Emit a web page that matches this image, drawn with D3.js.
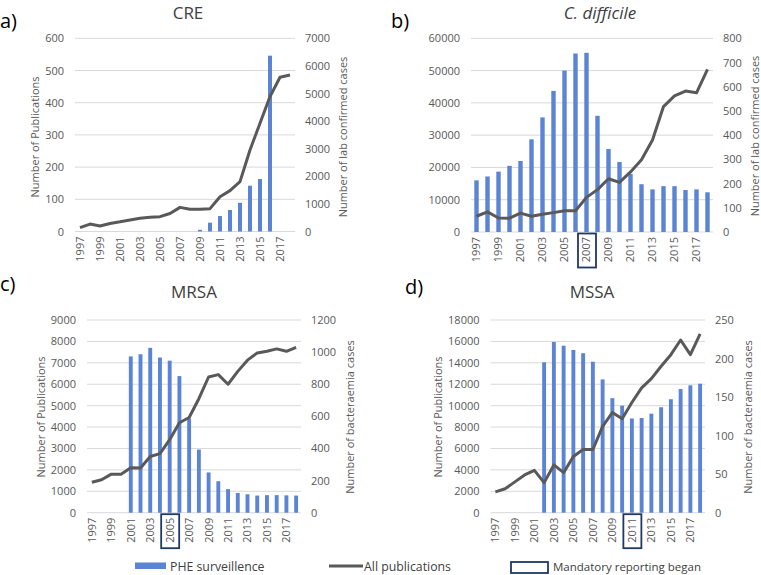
<!DOCTYPE html>
<html>
<head>
<meta charset="utf-8">
<script src="https://cdn.jsdelivr.net/npm/d3@7"></script>
<style>
body{margin:0;background:#fff;}
svg{font-family:"Open Sans",sans-serif;}
</style>
</head>
<body>
<svg id="fig" width="761" height="575"></svg>
<script>
/***************************  Data ***************************/
var years = [1997,1998,1999,2000,2001,2002,2003,2004,2005,2006,2007,2008,2009,2010,2011,2012,2013,2014,2015,2016,2017,2018];
var tick_years = [1997,1999,2001,2003,2005,2007,2009,2011,2013,2015,2017];

// a) CRE : surveillance on the right axis, publications on the left
var cre_surveillance = [null,null,null,null,null,null,null,null,null,null,null,null,60,320,560,780,1040,1660,1900,6370,null,null];
var cre_publications = [12,23,17,25,30,36,41,44,46,56,75,69,69,71,108,127,155,253,336,419,479,486];

// b) C. difficile
var cdiff_surveillance = [16000,17200,18700,20500,22000,28700,35500,43700,50000,55300,55500,36000,25700,21700,18000,14800,13200,14200,14200,13000,13200,12300];
var cdiff_publications = [65,83,58,57,78,65,73,80,88,88,143,175,220,205,248,298,380,518,562,582,575,672];

// c) MRSA
var mrsa_surveillance = [null,null,null,null,7300,7400,7700,7250,7100,6380,4400,2950,1880,1470,1100,920,860,800,820,820,810,800];
var mrsa_publications = [190,205,240,240,280,278,350,368,455,560,593,710,845,860,800,880,950,995,1005,1020,1005,1030];

// d) MSSA
var mssa_surveillance = [null,null,null,null,null,14050,15950,15600,15200,14900,14100,12450,10700,10000,8800,8850,9250,9850,10600,11550,11900,12050];
var mssa_publications = [27,31,40,49,55,39,62,52,73,82,82,112,130,122,143,162,174,190,205,224,205,232];

var legend_labels = ["PHE surveillence","All publications","Mandatory reporting began"];

/***************************  Panels ***************************/
var panels = [
    {tag:"a)", title:"CRE", italic:false, tagX:0, tagY:28, titleX:188, titleY:19,
     x0:75, x1:295, yb:231.5, yt:38.3,
     leftMax:600, leftStep:100, rightMax:7000, rightStep:1000,
     bars:cre_surveillance, line:cre_publications, barsRight:true,
     leftTitle:"Number of Publications", leftTitleX:39, rightTitle:"Number of lab confirmed cases", rightTitleX:347, titleMidY:137,
     mandatory:null},
    {tag:"b)", title:"C. difficile", italic:true, tagX:391, tagY:28, titleX:600, titleY:19,
     x0:471, x1:713, yb:232, yt:38.3,
     leftMax:60000, leftStep:10000, rightMax:800, rightStep:100,
     bars:cdiff_surveillance, line:cdiff_publications, barsRight:false,
     leftTitle:null, rightTitle:"Number of lab confirmed cases", rightTitleX:759, titleMidY:136,
     mandatory:2007},
    {tag:"c)", title:"MRSA", italic:false, tagX:0, tagY:291, titleX:194, titleY:298,
     x0:87, x1:301, yb:512.7, yt:320,
     leftMax:9000, leftStep:1000, rightMax:1200, rightStep:200,
     bars:mrsa_surveillance, line:mrsa_publications, barsRight:false,
     leftTitle:"Number of Publications", leftTitleX:45, rightTitle:"Number of bacteraemia cases", rightTitleX:354, titleMidY:417,
     mandatory:2005},
    {tag:"d)", title:"MSSA", italic:false, tagX:405, tagY:294, titleX:592, titleY:298,
     x0:490.5, x1:705, yb:512.7, yt:320,
     leftMax:18000, leftStep:2000, rightMax:250, rightStep:50,
     bars:mssa_surveillance, line:mssa_publications, barsRight:false,
     leftTitle:"Number of Publications", leftTitleX:442, rightTitle:"Number of bacteraemia cases", rightTitleX:752, titleMidY:417,
     mandatory:2011}
];

var BAR = "#5b84d4", LINE = "#595959", GRID = "#d9d9d9", TXT = "#595959", NAVY = "#1f3864";
var svg = d3.select("#fig");

/***************************  Functions ***************************/
function draw_panel(p)
{
    var g = svg.append("g");
    var x = d3.scaleBand().domain(years).range([p.x0, p.x1]);
    var yl = d3.scaleLinear().domain([0, p.leftMax]).range([p.yb, p.yt]);
    var yr = d3.scaleLinear().domain([0, p.rightMax]).range([p.yb, p.yt]);
    var yBar = p.barsRight ? yr : yl;
    var yLine = p.barsRight ? yl : yr;

    // gridlines
    var lt = d3.range(0, p.leftMax + p.leftStep / 2, p.leftStep);
    g.selectAll("line.grid").data(lt).enter().append("line")
        .attr("x1", p.x0).attr("x2", p.x1)
        .attr("y1", function(d){ return yl(d); }).attr("y2", function(d){ return yl(d); })
        .attr("stroke", GRID).attr("stroke-width", 1);

    // left and right tick labels
    var la = g.append("g").attr("transform", "translate(" + (p.x0 - 11) + ",0)")
        .call(d3.axisLeft(yl).tickValues(lt).tickSize(0).tickPadding(0).tickFormat(d3.format("d")));
    var rt = d3.range(0, p.rightMax + p.rightStep / 2, p.rightStep);
    var ra = g.append("g").attr("transform", "translate(" + (p.x1 + 10) + ",0)")
        .call(d3.axisRight(yr).tickValues(rt).tickSize(0).tickPadding(0).tickFormat(d3.format("d")));
    [la, ra].forEach(function(a){
        a.select(".domain").remove();
        a.selectAll("text").attr("fill", TXT).style("font-size", "11px").style("font-family", "'Open Sans',sans-serif");
    });

    // bars
    var bw = x.bandwidth() * 0.4;
    g.selectAll("rect.bar").data(years.map(function(y, i){ return {year:y, v:p.bars[i]}; })
            .filter(function(d){ return d.v != null; }))
        .enter().append("rect")
        .attr("x", function(d){ return x(d.year) + (x.bandwidth() - bw) / 2; })
        .attr("width", bw)
        .attr("y", function(d){ return yBar(d.v); })
        .attr("height", function(d){ return p.yb - yBar(d.v); })
        .attr("fill", BAR);

    // line
    var line = d3.line()
        .x(function(d, i){ return x(years[i]) + x.bandwidth() / 2; })
        .y(function(d){ return yLine(d); });
    g.append("path").datum(p.line)
        .attr("d", line).attr("fill", "none")
        .attr("stroke", LINE).attr("stroke-width", 3).attr("stroke-linejoin", "round");

    // x axis labels
    var xa = g.append("g").attr("transform", "translate(0," + p.yb + ")")
        .call(d3.axisBottom(x).tickValues(tick_years).tickSize(0));
    xa.select(".domain").remove();
    xa.selectAll("text")
        .attr("transform", "rotate(-90)")
        .attr("x", -5).attr("y", 0).attr("dy", "0.36em")
        .style("text-anchor", "end")
        .attr("fill", TXT).style("font-size", "11px").style("font-family", "'Open Sans',sans-serif");

    if (p.mandatory)
    {
        var cx = x(p.mandatory) + x.bandwidth() / 2;
        g.append("rect")
            .attr("x", cx - 8.5).attr("y", p.yb + 1.5)
            .attr("width", 18).attr("height", 34)
            .attr("fill", "none").attr("stroke", NAVY).attr("stroke-width", 1.8);
    }

    // titles
    g.append("text").text(p.tag).attr("x", p.tagX).attr("y", p.tagY)
        .attr("fill", "#000").style("font-size", "20px");
    g.append("text").text(p.title).attr("x", p.titleX).attr("y", p.titleY)
        .attr("text-anchor", "middle").attr("fill", "#404040")
        .style("font-size", "17px").style("font-style", p.italic ? "italic" : "normal");

    if (p.leftTitle)
    {
        g.append("text").text(p.leftTitle)
            .attr("transform", "translate(" + p.leftTitleX + "," + p.titleMidY + ") rotate(-90)")
            .attr("text-anchor", "middle").attr("fill", TXT).style("font-size", "11px");
    }
    g.append("text").text(p.rightTitle)
        .attr("transform", "translate(" + p.rightTitleX + "," + p.titleMidY + ") rotate(-90)")
        .attr("text-anchor", "middle").attr("fill", TXT).style("font-size", "11px");
}

panels.forEach(draw_panel);

/***************************  Legend ***************************/
var lg = svg.append("g").style("font-size", "12.3px");
lg.append("rect").attr("x", 135).attr("y", 562.5).attr("width", 31).attr("height", 6.5).attr("fill", BAR);
lg.append("text").text(legend_labels[0]).attr("x", 170).attr("y", 570.5).attr("fill", "#404040");
lg.append("line").attr("x1", 329).attr("x2", 363).attr("y1", 566).attr("y2", 566)
    .attr("stroke", LINE).attr("stroke-width", 3);
lg.append("text").text(legend_labels[1]).attr("x", 364).attr("y", 570.5).attr("fill", "#404040");
lg.append("rect").attr("x", 511).attr("y", 562).attr("width", 37).attr("height", 11)
    .attr("fill", "#fff").attr("stroke", NAVY).attr("stroke-width", 1.8);
lg.append("text").text(legend_labels[2]).attr("x", 553).attr("y", 571).attr("fill", "#404040")
    .style("font-size", "11.5px");
</script>
</body>
</html>
